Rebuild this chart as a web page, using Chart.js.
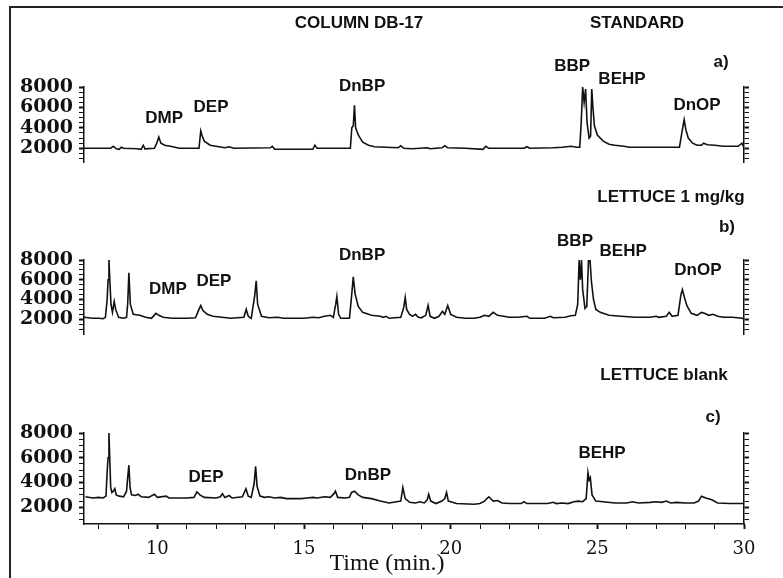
<!DOCTYPE html>
<html>
<head>
<meta charset="utf-8">
<script src="https://cdn.jsdelivr.net/npm/chart.js@4.4.1/dist/chart.umd.min.js"></script>
<style>
  html, body { margin: 0; padding: 0; background: #fff; }
  #fig { position: relative; width: 783px; height: 578px; overflow: hidden; background: #fff; }
  #fig canvas { position: absolute; left: 0; }
  .frame-l { position: absolute; left: 9px; top: 6px; width: 2px; height: 572px; background: #222; }
  .frame-t { position: absolute; left: 9px; top: 6px; width: 774px; height: 2px; background: #222; }
  .lbl { position: absolute; transform: translate(-50%, -50%); white-space: nowrap;
         font: bold 17px "Liberation Sans", Arial, sans-serif; color: #111; }
  .xt { position: absolute; transform: translate(-50%, -50%); white-space: nowrap;
        font: 24px "Liberation Serif", "Times New Roman", serif; color: #111; }
</style>
</head>
<body>
<div id="fig">
  <div class="frame-l"></div>
  <div class="frame-t"></div>
  <canvas id="panelA" width="783" height="150" style="top:30px"></canvas>
  <canvas id="panelB" width="783" height="152" style="top:200px"></canvas>
  <canvas id="panelC" width="783" height="198" style="top:380px"></canvas>
  <div class="lbl" style="left:359px;top:23px">COLUMN DB-17</div>
  <div class="lbl" style="left:637px;top:23px">STANDARD</div>
  <div class="lbl" style="left:721px;top:62px">a)</div>
  <div class="lbl" style="left:671px;top:197px">LETTUCE 1 mg/kg</div>
  <div class="lbl" style="left:727px;top:227px">b)</div>
  <div class="lbl" style="left:664px;top:375px">LETTUCE blank</div>
  <div class="lbl" style="left:713px;top:417px">c)</div>
  <div class="xt" style="left:387px;top:562px">Time (min.)</div>
</div>
<script>
// retention time (min) and detector signal
const standardTrace = [[7.5,2000],[8.4,2000],[8.5,2200],[8.6,1950],[8.7,1900],[8.77,2100],[8.85,2000],[9.3,1950],[9.45,1900],[9.52,2300],[9.58,1950],[9.9,2000],[9.98,2500],[10.05,3100],[10.12,2500],[10.25,2300],[10.45,2200],[10.6,2100],[10.75,2000],[11.42,2000],[11.48,3700],[11.53,3200],[11.6,2700],[11.8,2300],[12.0,2200],[12.2,2100],[12.3,2050],[12.45,2150],[12.6,2000],[13.85,2050],[13.92,2200],[14.0,1900],[15.3,1900],[15.37,2300],[15.45,2000],[16.58,2000],[16.63,4000],[16.68,4200],[16.72,6200],[16.76,4000],[16.85,3300],[17.0,2600],[17.2,2300],[17.4,2150],[17.8,2100],[18.2,2050],[18.3,2250],[18.4,2000],[18.7,1950],[19.2,2050],[19.3,1950],[19.7,2050],[19.8,2250],[19.9,2050],[20.5,2000],[21.1,1900],[21.2,2200],[21.3,2000],[22.5,2000],[22.6,2150],[22.7,2000],[23.5,2050],[23.8,2100],[24.1,2200],[24.3,2100],[24.4,2100],[24.45,4500],[24.5,8000],[24.55,6500],[24.6,7800],[24.65,4500],[24.72,3000],[24.77,3200],[24.81,7800],[24.85,6000],[24.9,4200],[25.0,3300],[25.2,2700],[25.4,2400],[25.6,2300],[25.9,2200],[26.1,2100],[27.0,2100],[27.8,2100],[27.88,3500],[27.96,4800],[28.02,3800],[28.1,3000],[28.25,2500],[28.4,2300],[28.55,2300],[28.62,2500],[28.75,2350],[29.0,2300],[29.3,2200],[29.8,2200],[29.93,2500],[30.0,2050]];

const spikedTrace = [[7.5,2200],[7.8,2100],[8.0,2100],[8.15,2050],[8.23,2200],[8.29,4000],[8.32,6000],[8.35,8000],[8.38,6000],[8.42,3500],[8.47,2700],[8.53,3800],[8.58,3000],[8.68,2200],[8.85,2100],[8.95,2200],[8.99,3600],[9.03,6700],[9.08,3500],[9.18,2500],[9.4,2400],[9.6,2200],[9.8,2100],[9.95,2600],[10.05,2400],[10.2,2200],[10.5,2100],[11.0,2100],[11.3,2150],[11.42,3000],[11.48,3400],[11.55,2900],[11.7,2500],[11.9,2300],[12.2,2200],[12.5,2100],[12.95,2200],[13.03,3000],[13.1,2300],[13.2,2100],[13.32,4400],[13.37,5900],[13.42,3500],[13.55,2300],[13.8,2150],[14.1,2200],[14.3,2100],[15.0,2100],[15.3,2200],[15.5,2150],[15.7,2300],[15.9,2400],[16.0,2200],[16.08,3500],[16.12,4300],[16.18,2500],[16.25,2100],[16.55,2100],[16.62,4300],[16.68,6300],[16.74,4600],[16.85,3300],[17.0,2700],[17.3,2400],[17.6,2300],[17.7,2200],[17.8,2300],[17.9,2100],[18.3,2200],[18.4,3200],[18.45,4200],[18.5,3000],[18.6,2500],[18.7,2300],[18.8,2500],[18.9,2200],[19.0,2150],[19.15,2400],[19.23,3400],[19.3,2300],[19.45,2100],[19.6,2300],[19.72,2800],[19.8,2500],[19.9,3400],[20.0,2500],[20.2,2200],[20.5,2100],[20.8,2100],[21.0,2200],[21.15,2400],[21.3,2300],[21.45,2700],[21.6,2400],[21.8,2300],[22.0,2200],[22.3,2200],[22.6,2300],[22.7,2100],[23.2,2100],[23.4,2300],[23.5,2150],[23.9,2200],[24.1,2350],[24.25,2400],[24.33,3500],[24.38,8000],[24.42,6000],[24.46,8000],[24.5,5000],[24.58,3100],[24.64,3300],[24.7,8000],[24.75,8000],[24.8,5800],[24.87,4000],[24.95,3000],[25.1,2700],[25.4,2400],[25.8,2300],[26.3,2200],[26.8,2200],[27.0,2300],[27.1,2200],[27.35,2300],[27.45,2700],[27.55,2300],[27.75,2400],[27.85,4500],[27.9,5000],[27.95,4400],[28.05,3400],[28.2,2600],[28.4,2400],[28.55,2700],[28.65,2600],[28.8,2400],[28.95,2500],[29.1,2300],[29.3,2200],[29.6,2200],[29.95,2100],[30.0,2000]];

const blankTrace = [[7.55,2850],[7.8,2750],[8.0,2800],[8.15,2750],[8.25,2900],[8.29,4900],[8.32,6000],[8.35,8000],[8.38,5800],[8.41,3600],[8.45,3200],[8.5,3300],[8.55,3500],[8.6,3000],[8.7,2900],[8.85,2850],[8.95,3300],[8.99,4400],[9.03,5400],[9.07,3600],[9.12,3000],[9.25,2950],[9.35,3050],[9.45,2850],[9.7,2800],[9.9,3050],[10.0,2800],[10.3,2900],[10.4,2750],[11.0,2750],[11.25,2800],[11.35,3250],[11.45,3000],[11.6,2800],[12.0,2750],[12.15,2850],[12.22,3100],[12.3,2800],[12.45,2950],[12.55,2750],[12.9,2850],[13.02,3500],[13.1,2900],[13.2,2800],[13.3,3900],[13.35,5300],[13.4,3700],[13.5,2900],[13.65,2800],[13.8,2850],[14.0,2750],[14.2,2800],[14.4,2700],[14.9,2700],[15.1,2750],[15.3,2800],[15.45,2750],[15.7,2850],[15.9,2800],[16.02,3100],[16.07,3300],[16.15,2800],[16.4,2750],[16.55,2800],[16.62,3200],[16.72,3300],[16.85,3000],[17.0,2800],[17.3,2700],[17.6,2500],[17.9,2350],[18.15,2450],[18.3,2500],[18.37,3600],[18.45,2700],[18.6,2400],[18.8,2350],[18.95,2450],[19.1,2350],[19.2,2600],[19.25,3050],[19.32,2500],[19.5,2300],[19.7,2500],[19.8,2700],[19.86,3200],[19.92,2500],[20.0,2450],[20.2,2300],[20.8,2250],[21.0,2300],[21.15,2500],[21.3,2850],[21.45,2500],[21.6,2550],[21.75,2350],[22.0,2300],[22.4,2300],[22.5,2450],[22.6,2300],[23.3,2300],[23.5,2400],[23.6,2300],[23.8,2350],[24.0,2300],[24.2,2450],[24.35,2500],[24.5,2450],[24.62,2700],[24.68,4800],[24.72,4200],[24.76,4400],[24.82,3000],[24.95,2500],[25.2,2450],[25.6,2350],[26.0,2350],[26.2,2450],[26.4,2350],[26.8,2400],[27.0,2450],[27.2,2400],[27.35,2500],[27.5,2350],[27.7,2400],[28.0,2350],[28.3,2350],[28.45,2500],[28.55,2900],[28.7,2750],[28.9,2600],[29.1,2350],[29.5,2300],[30.0,2300]];

// axis ticks
const yTickLabels = [2000, 4000, 6000, 8000];
const yMinorTicks = [1000, 1500, 2000, 2500, 3000, 3500, 4000, 4500, 5000, 5500, 6000, 6500, 7000, 7500, 8000];
const xTickLabels = [10, 15, 20, 25, 30];
const xMinorTicks = [8, 9, 10, 11, 12, 13, 14, 15, 16, 17, 18, 19, 20, 21, 22, 23, 24, 25, 26, 27, 28, 29, 30];

// peak names with the (time, signal) where each name sits
const namesA = ['DMP', 'DEP', 'DnBP', 'BBP', 'BEHP', 'DnOP'];
const nameTimesA = [10.23, 11.83, 16.98, 24.14, 25.84, 28.4];
const nameLevelsA = [4930, 6010, 8090, 9985, 8720, 6195];
const namesB = ['DMP', 'DEP', 'DnBP', 'BBP', 'BEHP', 'DnOP'];
const nameTimesB = [10.36, 11.93, 16.98, 24.24, 25.88, 28.43];
const nameLevelsB = [5054, 5882, 8460, 9841, 8920, 6987];
const namesC = ['DEP', 'DnBP', 'BEHP'];
const nameTimesC = [11.66, 17.18, 25.16];
const nameLevelsC = [4446, 4608, 6385];

const peakLabels = {
  id: 'peakLabels',
  afterDatasetsDraw(chart, args, opts) {
    const ctx = chart.ctx, x = chart.scales.x, y = chart.scales.y;
    ctx.save();
    ctx.font = 'bold 17px "Liberation Sans", Arial, sans-serif';
    ctx.fillStyle = '#111';
    ctx.textAlign = 'center';
    ctx.textBaseline = 'middle';
    opts.names.forEach((n, i) => {
      ctx.fillText(n, x.getPixelForValue(opts.times[i]), y.getPixelForValue(opts.levels[i]));
    });
    ctx.restore();
  }
};

function yAxis(pos, yMin, showLabels) {
  return {
    position: pos, min: yMin, max: 8000,
    afterBuildTicks: s => { s.ticks = yMinorTicks.filter(v => v >= yMin).map(v => ({ value: v })); },
    afterFit: s => { s.width = pos === 'left' ? 84 : 39; },
    ticks: {
      display: showLabels, autoSkip: false, padding: 6, color: '#111',
      font: { family: 'DejaVu Serif', size: 19, weight: 'bold' },
      callback: v => yTickLabels.includes(v) ? String(v) : ''
    },
    grid: {
      drawOnChartArea: false, tickLength: 5, tickColor: '#111',
      tickWidth: c => yTickLabels.includes(c.tick.value) ? 2 : 1
    },
    border: { color: '#111', width: 1.5 }
  };
}

function drawPanel(id, trace, yMin, padTop, padBottom, showTime, names, nameTimes, nameLevels) {
  new Chart(document.getElementById(id), {
    type: 'line',
    data: {
      datasets: [{
        data: trace.map(p => ({ x: p[0], y: p[1] })),
        borderColor: '#111', borderWidth: 1.6, pointRadius: 0, tension: 0, fill: false
      }]
    },
    options: {
      responsive: false, animation: false, devicePixelRatio: 1,
      layout: { padding: { top: padTop, bottom: padBottom, left: 0, right: 0 } },
      plugins: {
        legend: { display: false }, tooltip: { enabled: false },
        peakLabels: { names: names, times: nameTimes, levels: nameLevels }
      },
      scales: {
        x: {
          type: 'linear', min: 7.5, max: 30, display: showTime,
          afterBuildTicks: s => { s.ticks = xMinorTicks.map(v => ({ value: v })); },
          afterFit: s => { s.height = showTime ? 54 : 0; },
          ticks: {
            autoSkip: false, maxRotation: 0, padding: 10, color: '#111',
            font: { family: 'DejaVu Serif', size: 18 },
            callback: v => xTickLabels.includes(v) ? String(v) : ''
          },
          grid: {
            drawOnChartArea: false, tickLength: 5, tickColor: '#111',
            tickWidth: c => xTickLabels.includes(c.tick.value) ? 2 : 1
          },
          border: { color: '#111', width: 1.5 }
        },
        y: yAxis('left', yMin, true),
        y2: yAxis('right', yMin, false)
      }
    },
    plugins: [peakLabels]
  });
}

drawPanel('panelA', standardTrace, 600, 57, 11, false, namesA, nameTimesA, nameLevelsA);
drawPanel('panelB', spikedTrace, 450, 60, 10, false, namesB, nameTimesB, nameLevelsB);
drawPanel('panelC', blankTrace, 650, 53, 0, true, namesC, nameTimesC, nameLevelsC);
</script>
</body>
</html>
